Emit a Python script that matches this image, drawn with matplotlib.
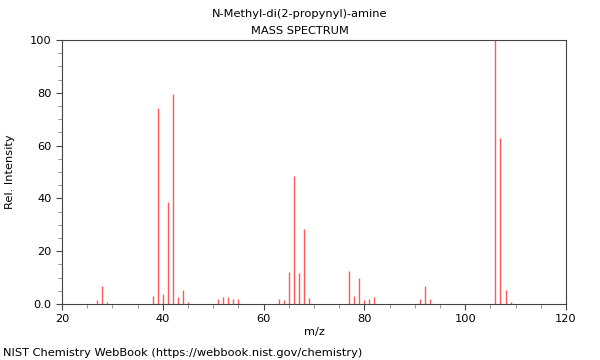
#!/usr/bin/env python3
import numpy as np
import matplotlib.pyplot as plt
from matplotlib.ticker import MultipleLocator, FixedFormatter, FixedLocator

# m/z and relative intensity
mz = [27, 28, 29, 38, 39, 40, 41, 42, 43, 44, 45,
      51, 52, 53, 54, 55, 63, 64, 65, 66, 67, 68, 69,
      77, 78, 79, 80, 81, 82, 91, 92, 93, 106, 107, 108, 109]
intensity = [1.5, 6.9, 0.8, 3.1, 74.1, 3.9, 38.5, 79.5, 2.7, 5.4, 0.7,
             1.8, 2.8, 2.8, 2.0, 1.9, 2.0, 1.4, 12.0, 48.5, 11.7, 28.5, 2.3,
             12.5, 3.0, 10.0, 1.4, 1.9, 2.7, 2.0, 6.8, 2.0, 100.0, 63.0, 5.4, 0.7]

title = "N-Methyl-di(2-propynyl)-amine"
subtitle = "MASS SPECTRUM"
footer = "NIST Chemistry WebBook (https://webbook.nist.gov/chemistry)"

FS = 8.2

fig = plt.figure(figsize=(6, 3.6), dpi=100)
ax = fig.add_axes([0.1033, 0.1556, 0.84, 0.7334])

ax.vlines(mz, 0, intensity, colors="#ff0000", linewidth=1.0, alpha=0.65)

ax.set_xlim(20, 120)
ax.set_ylim(0, 100)
ax.xaxis.set_major_locator(MultipleLocator(20))
ax.xaxis.set_minor_locator(MultipleLocator(5))
ax.yaxis.set_major_locator(FixedLocator([0, 20, 40, 60, 80, 100]))
ax.yaxis.set_major_formatter(FixedFormatter(["0.0", "20", "40", "60", "80", "100"]))
ax.yaxis.set_minor_locator(MultipleLocator(5))
ax.tick_params(labelsize=FS, color="#444444", width=0.8, length=4)
ax.tick_params(which="minor", color="#888888", length=3)
for s in ax.spines.values():
    s.set_color("#444444")
    s.set_linewidth(0.8)

ax.set_xlabel("m/z", fontsize=FS, labelpad=2)
ax.set_ylabel("Rel. Intensity", fontsize=FS, labelpad=11)

fig.text(0.5, 0.96, title, ha="center", va="center", fontsize=FS)
fig.text(0.5, 0.915, subtitle, ha="center", va="center", fontsize=FS)
fig.text(0.005, 0.02, footer, ha="left", va="center", fontsize=FS)

plt.savefig("out.png", dpi=100)
plt.close(fig)
